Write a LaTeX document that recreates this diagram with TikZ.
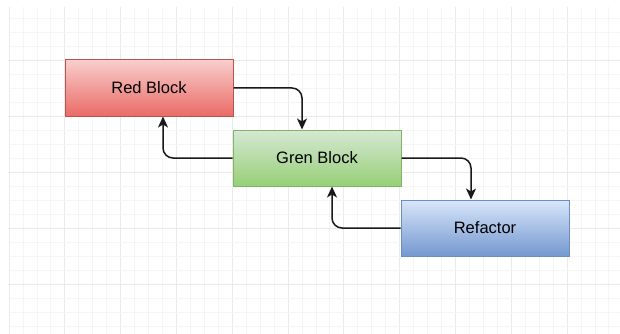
\documentclass[tikz,border=0pt]{standalone}
\usepackage{fontspec}
\setmainfont{Liberation Sans}
\usetikzlibrary{arrows.meta}

\definecolor{redtop}{HTML}{F8CECC}
\definecolor{redbot}{HTML}{EA6B66}
\definecolor{redline}{HTML}{B85450}
\definecolor{greentop}{HTML}{D5E8D4}
\definecolor{greenbot}{HTML}{97D077}
\definecolor{greenline}{HTML}{82B366}
\definecolor{bluetop}{HTML}{D8E6FA}
\definecolor{bluebot}{HTML}{7498CF}
\definecolor{blueline}{HTML}{6C8EBF}
\definecolor{gridminor}{HTML}{F5F5F5}
\definecolor{gridmajor}{HTML}{EAEAEA}

\tikzset{
  block/.style={rectangle, draw, line width=1pt, minimum width=168pt,
    minimum height=56pt, inner sep=0pt, text=black,
    font=\fontsize{16.5}{19}\selectfont},
  redblock/.style={block, draw=redline, top color=redtop, bottom color=redbot},
  greenblock/.style={block, draw=greenline, top color=greentop, bottom color=greenbot},
  blueblock/.style={block, draw=blueline, top color=bluetop, bottom color=bluebot},
  conn/.style={draw=black!90, line width=1.5pt, rounded corners=10pt,
    -{Stealth[length=11pt, width=10pt, inset=3pt]}},
  minorline/.style={draw=gridminor, line width=0.8pt},
  majorline/.style={draw=gridmajor, line width=0.8pt}
}

\begin{document}
\begin{tikzpicture}[x=1pt, y=-1pt]
\useasboundingbox (0,0) rectangle (620,334);
\fill[white] (0,0) rectangle (620,334);

% background grid: minor every 14, major every fourth line
\foreach \i in {0,...,43} {
  \pgfmathsetmacro{\gx}{9+13.95*\i}
  \pgfmathtruncatemacro{\m}{mod(\i,4)}
  \ifnum\m=0
    \draw[majorline] (\gx,7) -- (\gx,334);
  \else
    \draw[minorline] (\gx,7) -- (\gx,334);
  \fi
}
\foreach \j in {1,...,23} {
  \pgfmathsetmacro{\gy}{4+14*\j}
  \pgfmathtruncatemacro{\m}{mod(\j,4)}
  \ifnum\m=0
    \draw[majorline] (8,\gy) -- (620,\gy);
  \else
    \draw[minorline] (8,\gy) -- (620,\gy);
  \fi
}

% blocks
\node[redblock]   (red)   at (149,88)  {Red Block};
\node[greenblock] (green) at (317,158) {Gren Block};
\node[blueblock]  (blue)  at (485,228) {Refactor};

% connectors
\draw[conn] (red.east) -| ([xshift=-15pt]green.north);
\draw[conn] (green.west) -| ([xshift=14pt]red.south);
\draw[conn] (green.east) -| ([xshift=-14pt]blue.north);
\draw[conn] (blue.west) -| ([xshift=15pt]green.south);
\end{tikzpicture}
\end{document}
